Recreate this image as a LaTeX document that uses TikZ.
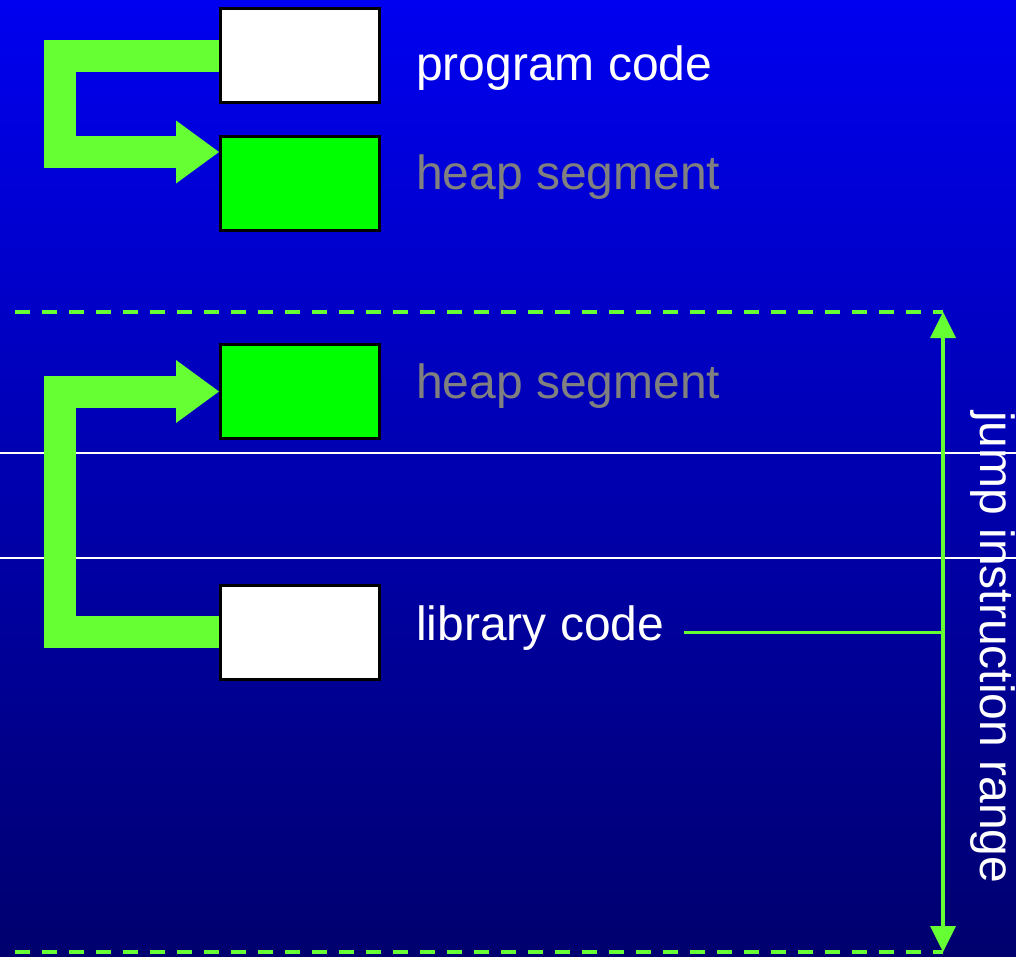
\documentclass[tikz,border=0pt]{standalone}
\usepackage{fontspec}
\setmainfont{Liberation Sans}
\usetikzlibrary{arrows.meta}
\definecolor{bgtop}{RGB}{0,0,240}
\definecolor{bgbot}{RGB}{0,0,110}
\definecolor{lgreen}{RGB}{102,255,51}
\definecolor{boxgreen}{RGB}{0,255,0}
\definecolor{labelgray}{RGB}{128,128,128}
\begin{document}
\begin{tikzpicture}[x=1pt,y=-1pt,
  membox/.style={draw=black,line width=3pt,minimum width=159pt,minimum height=94pt,inner sep=0pt},
  codebox/.style={membox,fill=white},
  heapbox/.style={membox,fill=boxgreen},
  lbl/.style={inner sep=0pt,font=\fontsize{48}{56}\selectfont,anchor=base west},
  blockarrow/.style={draw=lgreen,line width=32pt,line join=miter,
    -{Triangle[length=43pt,width=63pt,line width=0pt]}},
  dashline/.style={draw=lgreen,line width=4pt,dash pattern=on 15pt off 12pt},
  rangeline/.style={draw=lgreen,line width=4pt,
    {Triangle[length=26pt,width=26pt,line width=0pt]}-{Triangle[length=26pt,width=26pt,line width=0pt]}},
  tickline/.style={draw=lgreen,line width=3pt},
  sepline/.style={draw=white,line width=1.2pt}]
\useasboundingbox (0,0) rectangle (1016,956);
\shade[top color=bgtop,bottom color=bgbot] (0,0) rectangle (1016,956);
% thin white separator lines
\coordinate (s1a) at (0,453);
\coordinate (s1b) at (1016,453);
\coordinate (s2a) at (0,558);
\coordinate (s2b) at (1016,558);
\draw[sepline] (s1a) -- (s1b);
\draw[sepline] (s2a) -- (s2b);
% boxes
\node[codebox] (b1) at (300,55.5) {};
\node[heapbox] (b2) at (300,183.5) {};
\node[heapbox] (b3) at (300,391.5) {};
\node[codebox] (b4) at (300,632) {};
% block arrows
\draw[blockarrow] (b1.west) -- ++(-159,0) |- ([yshift=31.5pt]b2.west);
\draw[blockarrow] (b4.west) -- ++(-159,0) |- (b3.west);
% labels
\node[lbl,text=white] (t1) at (416,80) {program code};
\node[lbl,text=labelgray] (t2) at (416,189) {heap segment};
\node[lbl,text=labelgray] (t3) at (416,398) {heap segment};
\node[lbl,text=white] (t4) at (416,640) {library code};
\node[lbl,text=white,rotate=-90] (t5) at (980,411) {jump instruction range};
% range
\coordinate (dtopl) at (15,312);
\coordinate (rtop) at (943,312);
\coordinate (dbotl) at (15,952);
\coordinate (rbot) at (943,952);
\coordinate (libend) at (684,632);
\coordinate (rmid) at (943,632);
\draw[dashline] (dtopl) -- (rtop);
\draw[dashline] (dbotl) -- (rbot);
\draw[tickline] (libend) -- (rmid);
\draw[rangeline] (rtop) -- (rbot);
\end{tikzpicture}
\end{document}
